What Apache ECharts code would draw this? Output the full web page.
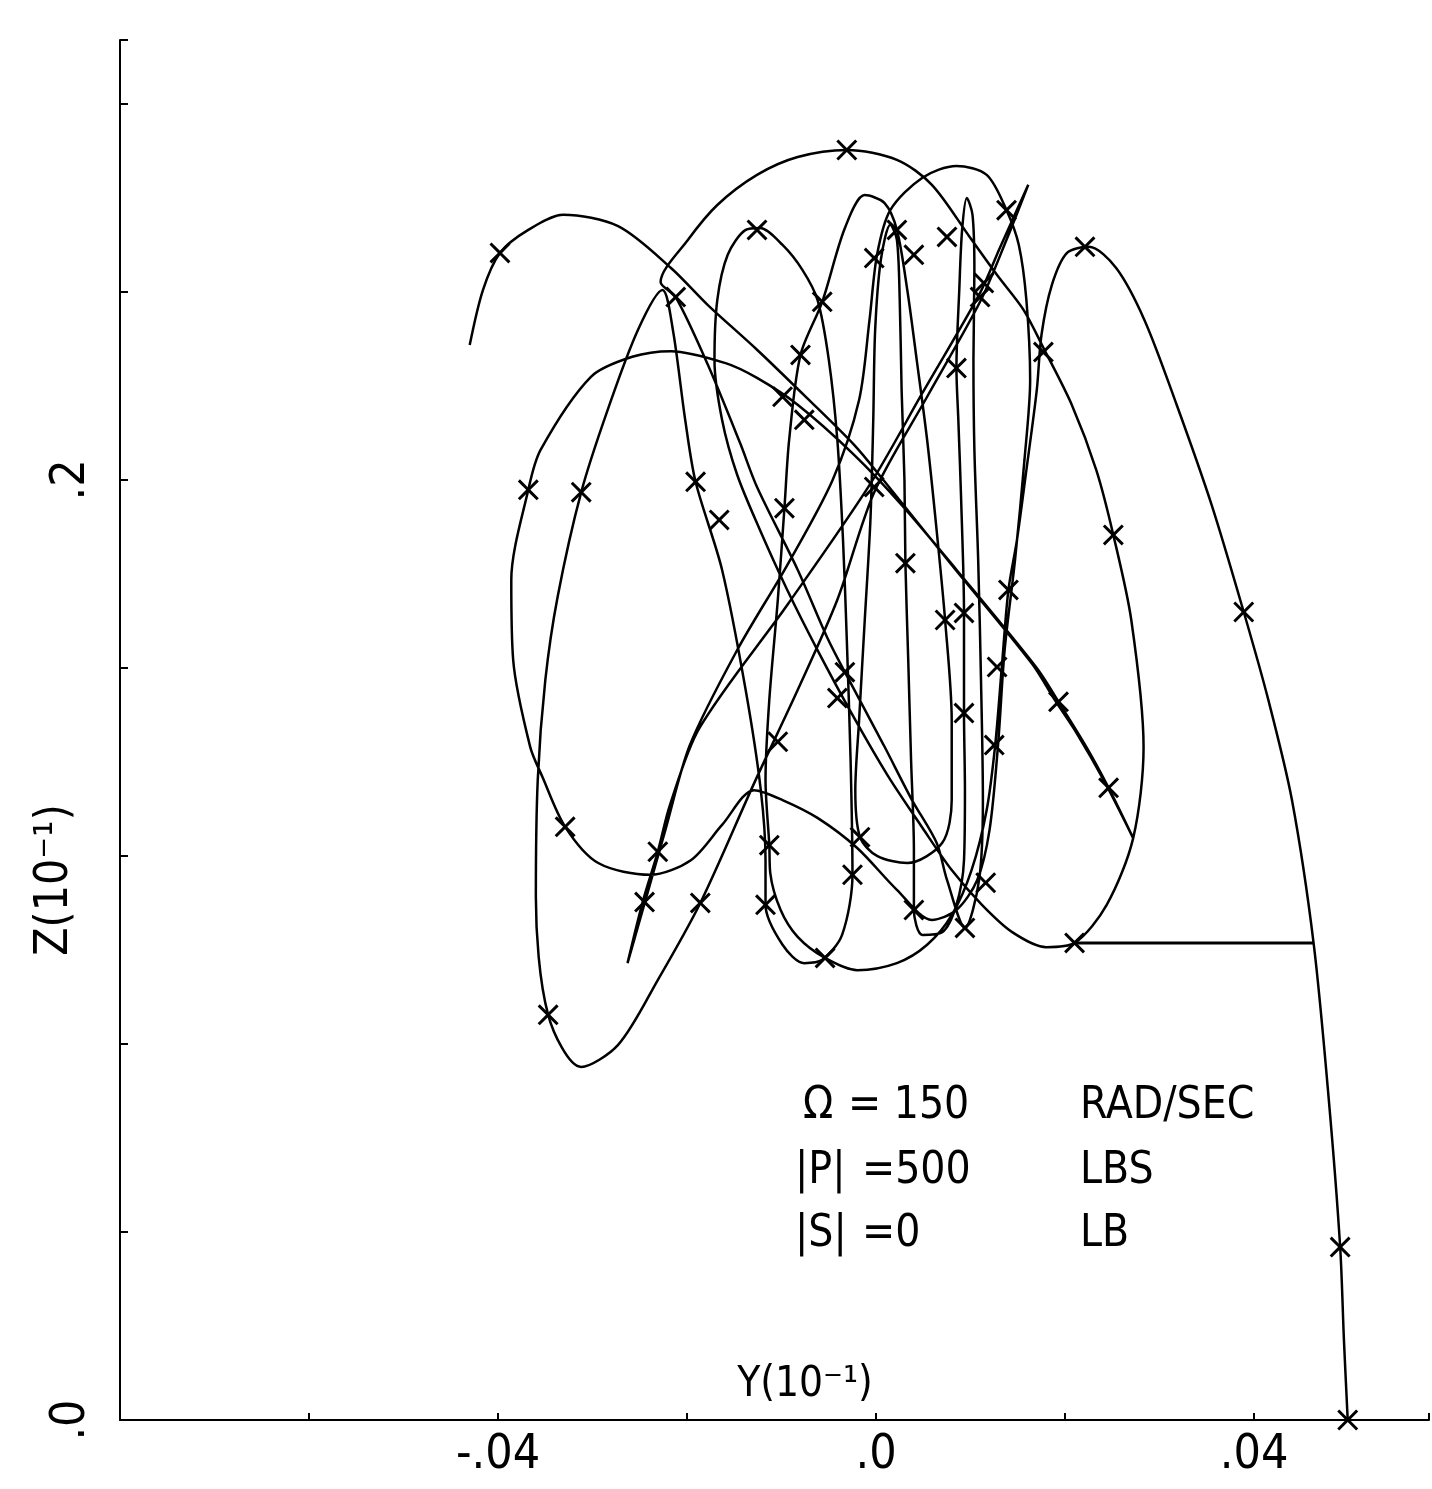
<!DOCTYPE html>
<html>
<head>
<meta charset="utf-8">
<script src="https://cdn.jsdelivr.net/npm/echarts@6/dist/echarts.min.js"></script>
<style>
  html, body { margin: 0; padding: 0; background: #fff; }
  #main { width: 1432px; height: 1489px; }
</style>
</head>
<body>
<div id="main"></div>
<script>
// trajectory, horizontal Y (10^-1) and vertical Z (10^-1)
var pathY = [
  0.0499, 0.0495, 0.0491, 0.0479, 0.0463, 0.0440, 0.0415, 0.0389, 0.0355, 0.0318,
  0.0284, 0.0254, 0.0225, 0.0202, 0.0186, 0.0175, 0.0170, 0.0159, 0.0149, 0.0140,
  0.0133, 0.0126, 0.0117, 0.0101, 0.0080, 0.0054, 0.0022, -0.0020, -0.0054, -0.0083,
  -0.0101, -0.0112, -0.0113, -0.0117, -0.0113, -0.0104, -0.0097, -0.0092, -0.0080, -0.0057,
  -0.0033, -0.0012, 0.0009, 0.0022, 0.0033, 0.0043, 0.0054, 0.0064, 0.0073, 0.0080,
  0.0080, 0.0070, 0.0033, 0.0001, -0.0017, -0.0022, -0.0018, -0.0012, -0.0006, -0.0003,
  -0.0001, 0.0005, 0.0015, 0.0022, 0.0025, 0.0027, 0.0030, 0.0031, 0.0034, 0.0037,
  0.0040, 0.0040, 0.0049, 0.0070, 0.0085, 0.0093, 0.0094, 0.0093, 0.0093, 0.0090,
  0.0087, 0.0085, 0.0088, 0.0091, 0.0096, 0.0102, 0.0104, 0.0103, 0.0104, 0.0108,
  0.0111, 0.0113, 0.0109, 0.0094, 0.0075, 0.0064, 0.0038, 0.0008, -0.0033, -0.0052,
  -0.0083, -0.0126, -0.0144, -0.0178, -0.0212, -0.0228, -0.0199, -0.0168, -0.0126, -0.0083,
  -0.0031, 0.0022, 0.0059, 0.0099, 0.0128, 0.0156, 0.0177, 0.0207, 0.0233, 0.0251,
  0.0270, 0.0283, 0.0272, 0.0244, 0.0210, 0.0180, 0.0144, 0.0112, 0.0080, 0.0049,
  0.0012, -0.0025, -0.0062, -0.0094, -0.0123, -0.0147, -0.0163, -0.0171, -0.0168, -0.0157,
  -0.0138, -0.0123, -0.0099, -0.0078, -0.0062, -0.0050, -0.0041, -0.0035, -0.0031, -0.0027,
  -0.0025, -0.0036, -0.0057, -0.0076, -0.0099, -0.0117, -0.0117, -0.0122, -0.0138, -0.0163,
  -0.0191, -0.0202, -0.0215, -0.0226, -0.0252, -0.0284, -0.0312, -0.0337, -0.0350, -0.0358,
  -0.0360, -0.0347, -0.0312, -0.0273, -0.0231, -0.0186, -0.0129, -0.0083, -0.0041, -0.0002,
  0.0054, 0.0110, 0.0138, 0.0161, 0.0131, 0.0110, 0.0049, -0.0007, -0.0094, -0.0187,
  -0.0218, -0.0231, -0.0247, -0.0263, -0.0244, -0.0223, -0.0197, -0.0147, -0.0094, -0.0046,
  -0.0018, -0.0007, 0.0001, 0.0015, 0.0049, 0.0085, 0.0117, 0.0138, 0.0151, 0.0159,
  0.0163, 0.0157, 0.0147, 0.0136, 0.0129, 0.0120, 0.0107, 0.0085, 0.0059, 0.0022,
  -0.0020, -0.0062, -0.0099, -0.0129, -0.0163, -0.0196, -0.0239, -0.0294, -0.0329, -0.0353,
  -0.0366, -0.0384, -0.0386, -0.0368, -0.0355, -0.0302, -0.0258, -0.0217, -0.0160, -0.0126,
  -0.0083, -0.0023, 0.0027, 0.0085, 0.0170, 0.0193, 0.0223, 0.0246, 0.0272, 0.0242,
  0.0212, 0.0189, 0.0165, 0.0080, 0.0006, -0.0023, -0.0073, -0.0126, -0.0178, -0.0217,
  -0.0273, -0.0331, -0.0368, -0.0398, -0.0416, -0.0430
];
var pathZ = [
  0.0000, 0.0170, 0.0368, 0.0681, 0.1013, 0.1319, 0.1532, 0.1719, 0.1947, 0.2160,
  0.2340, 0.2451, 0.2496, 0.2483, 0.2415, 0.2309, 0.2191, 0.2021, 0.1872, 0.1766,
  0.1602, 0.1436, 0.1298, 0.1170, 0.1074, 0.1011, 0.0972, 0.0957, 0.0983, 0.1028,
  0.1085, 0.1164, 0.1223, 0.1362, 0.1532, 0.1745, 0.1940, 0.2085, 0.2266, 0.2379,
  0.2536, 0.2606, 0.2589, 0.2532, 0.2404, 0.2255, 0.2085, 0.1894, 0.1702, 0.1489,
  0.1319, 0.1228, 0.1185, 0.1200, 0.1240, 0.1340, 0.1489, 0.1702, 0.1915, 0.2128,
  0.2319, 0.2468, 0.2543, 0.2511, 0.2383, 0.2191, 0.2000, 0.1823, 0.1617, 0.1404,
  0.1213, 0.1085, 0.1032, 0.1038, 0.1096, 0.1191, 0.1340, 0.1504, 0.1717, 0.1957,
  0.2128, 0.2238, 0.2404, 0.2532, 0.2600, 0.2564, 0.2447, 0.2255, 0.2064, 0.1830,
  0.1574, 0.1319, 0.1149, 0.1047, 0.1149, 0.1228, 0.1319, 0.1436, 0.1591, 0.1666,
  0.1809, 0.1985, 0.2079, 0.2245, 0.2389, 0.2421, 0.2511, 0.2585, 0.2649, 0.2687,
  0.2702, 0.2681, 0.2628, 0.2517, 0.2436, 0.2362, 0.2281, 0.2160, 0.2021, 0.1883,
  0.1702, 0.1432, 0.1238, 0.1096, 0.1015, 0.1006, 0.1038, 0.1096, 0.1170, 0.1260,
  0.1372, 0.1500, 0.1638, 0.1766, 0.1894, 0.2011, 0.2128, 0.2255, 0.2383, 0.2479,
  0.2532, 0.2536, 0.2500, 0.2447, 0.2383, 0.2255, 0.2085, 0.1872, 0.1660, 0.1404,
  0.1160, 0.1032, 0.0979, 0.0972, 0.1011, 0.1096, 0.1191, 0.1340, 0.1553, 0.1809,
  0.1996, 0.2128, 0.2319, 0.2404, 0.2319, 0.2149, 0.1974, 0.1751, 0.1574, 0.1362,
  0.1113, 0.0862, 0.0751, 0.0798, 0.0936, 0.1100, 0.1355, 0.1553, 0.1745, 0.1974,
  0.2177, 0.2379, 0.2511, 0.2628, 0.2494, 0.2398, 0.2185, 0.1989, 0.1734, 0.1472,
  0.1309, 0.1209, 0.1102, 0.0972, 0.1106, 0.1255, 0.1436, 0.1638, 0.1819, 0.2000,
  0.2170, 0.2340, 0.2479, 0.2574, 0.2643, 0.2668, 0.2649, 0.2574, 0.2500, 0.2383,
  0.2213, 0.2043, 0.1830, 0.1638, 0.1436, 0.1255, 0.1149, 0.1085, 0.1064, 0.1128,
  0.1217, 0.1281, 0.1319, 0.1340, 0.1266, 0.1191, 0.1160, 0.1185, 0.1262, 0.1368,
  0.1432, 0.1617, 0.1787, 0.1979, 0.2064, 0.2219, 0.2262, 0.2274, 0.2249, 0.2217,
  0.2160, 0.2053, 0.1947, 0.1809, 0.1600, 0.1528, 0.1430, 0.1345, 0.1238, 0.1357,
  0.1462, 0.1532, 0.1609, 0.1819, 0.2004, 0.2074, 0.2174, 0.2277, 0.2372, 0.2451,
  0.2540, 0.2564, 0.2532, 0.2483, 0.2404, 0.2287
];

// time marks (x) along the trajectory
var markY = [
  -0.0398, -0.0031, -0.0126, 0.0022, 0.0075, 0.0138, 0.0221, -0.0002, 0.0040, -0.0057,
  0.0114, 0.0110, -0.0080, -0.0099, -0.0076, 0.0085, -0.0212, -0.0368, -0.0312, -0.0191,
  -0.0166, -0.0097, -0.0002, 0.0031, 0.0073, 0.0093, 0.0140, 0.0128, -0.0033, -0.0041,
  0.0093, -0.0104, 0.0125, 0.0251, 0.0389, 0.0193, 0.0246, 0.0177, -0.0329, -0.0231,
  -0.0245, -0.0186, -0.0347, -0.0113, -0.0017, -0.0025, 0.0116, -0.0117, 0.0040, 0.0094,
  -0.0054, 0.0210, 0.0491, 0.0499
];
var markZ = [
  0.2483, 0.2702, 0.2532, 0.2532, 0.2517, 0.2574, 0.2496, 0.2472, 0.2479, 0.2379,
  0.2419, 0.2389, 0.2266, 0.2177, 0.2128, 0.2238, 0.2389, 0.1979, 0.1974, 0.1996,
  0.1915, 0.1940, 0.1985, 0.1823, 0.1702, 0.1717, 0.1766, 0.1602, 0.1591, 0.1536,
  0.1504, 0.1443, 0.1436, 0.1883, 0.1719, 0.1528, 0.1345, 0.2272, 0.1262, 0.1209,
  0.1102, 0.1100, 0.0862, 0.1223, 0.1240, 0.1160, 0.1143, 0.1096, 0.1085, 0.1047,
  0.0983, 0.1015, 0.0368, 0.0000
];

// straight pen stroke at the lower right
var strokeY = [0.0210, 0.0463];
var strokeZ = [0.1015, 0.1015];

var yTickText = { '-0.04': '-.04', '0': '.0', '0.04': '.04' };
var zTickText = { '0': '.0', '0.2': '.2' };

var font = "'DejaVu Sans Condensed', 'DejaVu Sans', sans-serif";

function pairs(a, b) {
    var out = [];
    for (var i = 0; i < a.length; i++) out.push([a[i], b[i]]);
    return out;
}
function key(v) { return String(Math.round(v * 100) / 100); }

var myChart = echarts.init(document.getElementById('main'));
myChart.setOption({
    animation: false,
    backgroundColor: '#fff',
    grid: { left: 120, right: 0, top: 40, bottom: 69 },
    xAxis: {
        type: 'value', min: -0.08, max: 0.0585, interval: 0.02,
        axisLine: { onZero: false, lineStyle: { color: '#000', width: 2 } },
        axisTick: { inside: true, length: 7, lineStyle: { color: '#000', width: 2 } },
        splitLine: { show: false },
        axisLabel: {
            color: '#000', fontSize: 48, fontFamily: font, margin: 12,
            formatter: function (v) { return yTickText[key(v)] || ''; }
        }
    },
    yAxis: {
        type: 'value', min: 0, max: 0.2936, interval: 0.04,
        axisLine: { onZero: false, lineStyle: { color: '#000', width: 2 } },
        axisTick: { inside: true, length: 8, lineStyle: { color: '#000', width: 2 } },
        splitLine: { show: false },
        axisLabel: {
            color: '#000', fontSize: 48, fontFamily: font, margin: 24, rotate: 90,
            formatter: function (v) { return zTickText[key(v)] || ''; }
        }
    },
    graphic: [
        { type: 'text', x: 55, y: 880, rotation: Math.PI / 2,
          style: { text: 'Z(10⁻¹)', font: '46px ' + font, fill: '#000', align: 'center', verticalAlign: 'middle' } },
        { type: 'text', x: 805, y: 1385,
          style: { text: 'Y(10⁻¹)', font: '42px ' + font, fill: '#000', align: 'center', verticalAlign: 'middle' } },
        { type: 'text', x: 803, y: 1107,
          style: { text: 'Ω', font: '44px ' + font, fill: '#000', verticalAlign: 'middle' } },
        { type: 'text', x: 848, y: 1107,
          style: { text: '= 150', font: '44px ' + font, fill: '#000', verticalAlign: 'middle' } },
        { type: 'text', x: 1080, y: 1107,
          style: { text: 'RAD/SEC', font: '44px ' + font, fill: '#000', verticalAlign: 'middle' } },
        { type: 'text', x: 795, y: 1172,
          style: { text: '|P|', font: '44px ' + font, fill: '#000', verticalAlign: 'middle' } },
        { type: 'text', x: 862, y: 1172,
          style: { text: '=500', font: '44px ' + font, fill: '#000', verticalAlign: 'middle' } },
        { type: 'text', x: 1080, y: 1172,
          style: { text: 'LBS', font: '44px ' + font, fill: '#000', verticalAlign: 'middle' } },
        { type: 'text', x: 795, y: 1235,
          style: { text: '|S|', font: '44px ' + font, fill: '#000', verticalAlign: 'middle' } },
        { type: 'text', x: 862, y: 1235,
          style: { text: '=0', font: '44px ' + font, fill: '#000', verticalAlign: 'middle' } },
        { type: 'text', x: 1080, y: 1235,
          style: { text: 'LB', font: '44px ' + font, fill: '#000', verticalAlign: 'middle' } }
    ],
    series: [
        {
            type: 'line', data: pairs(pathY, pathZ), smooth: 0.3,
            showSymbol: false, lineStyle: { color: '#000', width: 2.5 }
        },
        {
            type: 'line', data: pairs(strokeY, strokeZ),
            showSymbol: false, lineStyle: { color: '#000', width: 3 }
        },
        {
            type: 'scatter', data: pairs(markY, markZ), symbolSize: 21,
            symbol: 'path://M0,2L2,0L10,8L18,0L20,2L12,10L20,18L18,20L10,12L2,20L0,18L8,10Z',
            itemStyle: { color: '#000', opacity: 1 }
        }
    ]
});
</script>
</body>
</html>
